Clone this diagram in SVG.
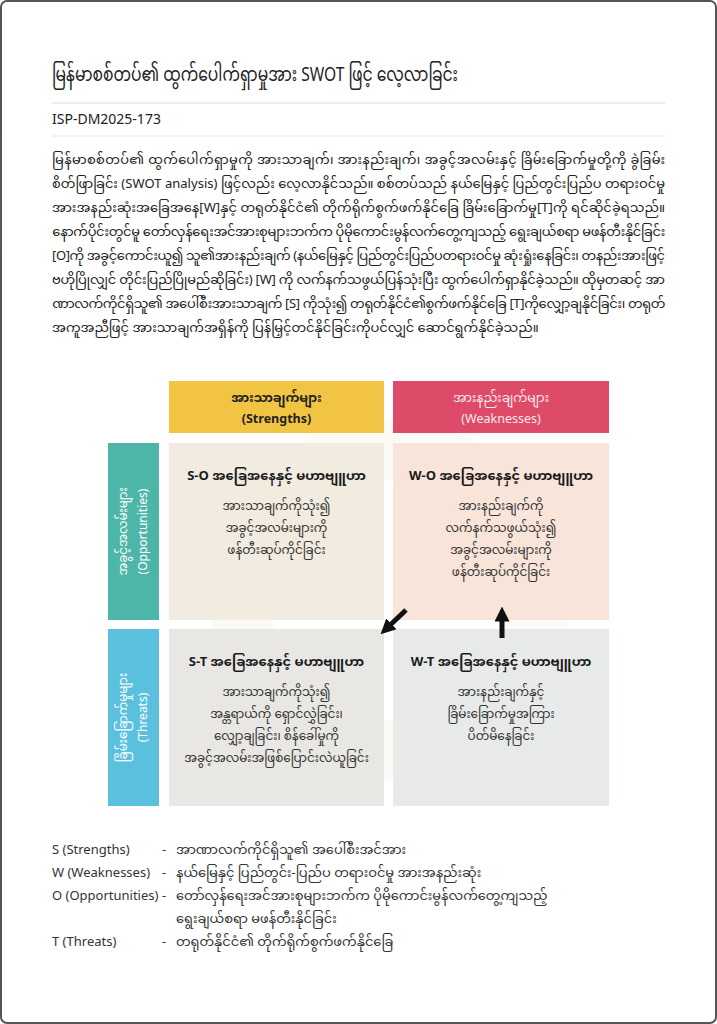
<svg xmlns="http://www.w3.org/2000/svg" width="717" height="1024" viewBox="0 0 717 1024">
<style>
text{font-family:"Noto Sans Myanmar","Padauk","Myanmar Text","Noto Sans","DejaVu Sans",sans-serif;fill:#222}
.t{font-size:19px}
.id{font-size:14px}
.p{font-size:13px}
.h{font-size:12.5px;font-weight:bold;text-anchor:middle}
.ct{font-size:13px;font-weight:bold;text-anchor:middle;fill:#1a1a1a}
.cb{font-size:12px;text-anchor:middle;fill:#333}
.side{font-size:12px;text-anchor:middle;fill:#fff}
.lg{font-size:13px;fill:#333}
</style>
<defs>
<marker id="ah" viewBox="0 0 10 10" refX="5" refY="5" markerWidth="3" markerHeight="3" orient="auto">
<path d="M0,0 L10,5 L0,10 z" fill="#111"/>
</marker>
</defs>
<rect x="0" y="0" width="717" height="1024" fill="#fff"/>
<rect x="1" y="1" width="715" height="1022" rx="6" fill="none" stroke="#555" stroke-width="2"/>

<g id="header">
<text class="t" x="52" y="81" textLength="406" lengthAdjust="spacingAndGlyphs">မြန်မာစစ်တပ်၏ ထွက်ပေါက်ရှာမှုအား SWOT ဖြင့် လေ့လာခြင်း</text>
<line x1="52" y1="103" x2="665" y2="103" stroke="#ddd" stroke-width="1"/>
<text class="id" x="52" y="124">ISP-DM2025-173</text>
<line x1="52" y1="136" x2="665" y2="136" stroke="#e6e6e6" stroke-width="1"/>
</g>

<g id="paragraph">
<text class="p" x="52" y="164" textLength="613" lengthAdjust="spacing">မြန်မာစစ်တပ်၏ ထွက်ပေါက်ရှာမှုကို အားသာချက်၊ အားနည်းချက်၊ အခွင့်အလမ်းနှင့် ခြိမ်းခြောက်မှုတို့ကို ခွဲခြမ်း</text>
<text class="p" x="52" y="188" textLength="613" lengthAdjust="spacing">စိတ်ဖြာခြင်း (SWOT analysis) ဖြင့်လည်း လေ့လာနိုင်သည်။ စစ်တပ်သည် နယ်မြေနှင့် ပြည်တွင်းပြည်ပ တရားဝင်မှု</text>
<text class="p" x="52" y="212" textLength="613" lengthAdjust="spacing">အားအနည်းဆုံးအခြေအနေ[W]နှင့် တရုတ်နိုင်ငံ၏ တိုက်ရိုက်စွက်ဖက်နိုင်ခြေ ခြိမ်းခြောက်မှု[T]ကို ရင်ဆိုင်ခဲ့ရသည်။</text>
<text class="p" x="52" y="236" textLength="613" lengthAdjust="spacing">နောက်ပိုင်းတွင်မူ တော်လှန်ရေးအင်အားစုများဘက်က ပိုမိုကောင်းမွန်လက်တွေ့ကျသည့် ရွေးချယ်စရာ မဖန်တီးနိုင်ခြင်း</text>
<text class="p" x="52" y="260" textLength="613" lengthAdjust="spacing">[O]ကို အခွင့်ကောင်းယူ၍ သူ၏အားနည်းချက် (နယ်မြေနှင့် ပြည်တွင်းပြည်ပတရားဝင်မှု ဆုံးရှုံးနေခြင်း၊ တနည်းအားဖြင့်</text>
<text class="p" x="52" y="284" textLength="613" lengthAdjust="spacing">ဗဟိုပြိုလျှင် တိုင်းပြည်ပြိုမည်ဆိုခြင်း) [W] ကို လက်နက်သဖွယ်ပြန်သုံးပြီး ထွက်ပေါက်ရှာနိုင်ခဲ့သည်။ ထိုမှတဆင့် အာ</text>
<text class="p" x="52" y="308" textLength="613" lengthAdjust="spacing">ဏာလက်ကိုင်ရှိသူ၏ အပေါ်စီးအားသာချက် [S] ကိုသုံး၍ တရုတ်နိုင်ငံ၏စွက်ဖက်နိုင်ခြေ [T]ကိုလျှော့ချနိုင်ခြင်း၊ တရုတ်</text>
<text class="p" x="52" y="332">အကူအညီဖြင့် အားသာချက်အရှိန်ကို ပြန်မြှင့်တင်နိုင်ခြင်းကိုပင်လျှင် ဆောင်ရွက်နိုင်ခဲ့သည်။</text>
</g>

<g id="watermark" opacity="0.05">
<circle cx="390" cy="600" r="150" fill="none" stroke="#c89a50" stroke-width="60"/>
</g>

<g id="strengths-header">
<rect x="169" y="381" width="215" height="52" fill="#F2C443"/>
<text class="h" x="276.5" y="402">အားသာချက်များ<tspan x="276.5" dy="21">(Strengths)</tspan></text>
</g>
<g id="weaknesses-header">
<rect x="393" y="381" width="216" height="52" fill="#DE4B68"/>
<text class="h" x="501" y="402" style="fill:#fde8ec;font-weight:normal">အားနည်းချက်များ<tspan x="501" dy="21">(Weaknesses)</tspan></text>
</g>
<g id="opportunities-side">
<rect x="108" y="443" width="51" height="177" fill="#4DB6A8"/>
<text class="side" transform="translate(127,531.5) rotate(-90)" x="0" y="0">အခွင့်အလမ်းများ<tspan x="0" dy="20">(Opportunities)</tspan></text>
</g>
<g id="threats-side">
<rect x="108" y="629" width="51" height="177" fill="#5BC0DE"/>
<text class="side" transform="translate(127,717.5) rotate(-90)" x="0" y="0">ခြိမ်းခြောက်မှုများ<tspan x="0" dy="20">(Threats)</tspan></text>
</g>

<g id="so-cell">
<rect x="169" y="443" width="215" height="177" fill="#F1EBE0"/>
<text class="ct" x="276.5" y="480">S-O အခြေအနေနှင့် မဟာဗျူဟာ</text>
<text class="cb" x="276.5" y="510">အားသာချက်ကိုသုံး၍<tspan x="276.5" dy="22">အခွင့်အလမ်းများကို</tspan><tspan x="276.5" dy="22">ဖန်တီးဆုပ်ကိုင်ခြင်း</tspan></text>
</g>
<g id="wo-cell">
<rect x="393" y="443" width="216" height="177" fill="#F8E4D8"/>
<text class="ct" x="501" y="480">W-O အခြေအနေနှင့် မဟာဗျူဟာ</text>
<text class="cb" x="501" y="510">အားနည်းချက်ကို<tspan x="501" dy="22">လက်နက်သဖွယ်သုံး၍</tspan><tspan x="501" dy="22">အခွင့်အလမ်းများကို</tspan><tspan x="501" dy="22">ဖန်တီးဆုပ်ကိုင်ခြင်း</tspan></text>
</g>
<g id="st-cell">
<rect x="169" y="629" width="215" height="177" fill="#E9E7E3"/>
<text class="ct" x="276.5" y="666">S-T အခြေအနေနှင့် မဟာဗျူဟာ</text>
<text class="cb" x="276.5" y="696">အားသာချက်ကိုသုံး၍<tspan x="276.5" dy="22">အန္တရာယ်ကို ရှောင်လွှဲခြင်း၊</tspan><tspan x="276.5" dy="22">လျှော့ချခြင်း၊ စိန်ခေါ်မှုကို</tspan><tspan x="276.5" dy="22">အခွင့်အလမ်းအဖြစ်ပြောင်းလဲယူခြင်း</tspan></text>
</g>
<g id="wt-cell">
<rect x="393" y="629" width="216" height="177" fill="#E8EAEA"/>
<text class="ct" x="501" y="666">W-T အခြေအနေနှင့် မဟာဗျူဟာ</text>
<text class="cb" x="501" y="696">အားနည်းချက်နှင့်<tspan x="501" dy="22">ခြိမ်းခြောက်မှုအကြား</tspan><tspan x="501" dy="22">ပိတ်မိနေခြင်း</tspan></text>
</g>

<g id="connectors" stroke="#111" stroke-width="5" fill="none">
<line x1="406" y1="610" x2="386" y2="629" marker-end="url(#ah)"/>
<line x1="502" y1="638" x2="502" y2="614" marker-end="url(#ah)"/>
</g>

<g id="legend">
<text class="lg" x="52" y="854">S (Strengths)</text>
<text class="lg" x="162" y="854">-</text>
<text class="lg" x="176" y="854">အာဏာလက်ကိုင်ရှိသူ၏ အပေါ်စီးအင်အား</text>
<text class="lg" x="52" y="877">W (Weaknesses)</text>
<text class="lg" x="162" y="877">-</text>
<text class="lg" x="176" y="877">နယ်မြေနှင့် ပြည်တွင်း-ပြည်ပ တရားဝင်မှု အားအနည်းဆုံး</text>
<text class="lg" x="52" y="900">O (Opportunities)</text>
<text class="lg" x="162" y="900">-</text>
<text class="lg" x="176" y="900">တော်လှန်ရေးအင်အားစုများဘက်က ပိုမိုကောင်းမွန်လက်တွေ့ကျသည့်<tspan x="176" dy="23">ရွေးချယ်စရာ မဖန်တီးနိုင်ခြင်း</tspan></text>
<text class="lg" x="52" y="946">T (Threats)</text>
<text class="lg" x="162" y="946">-</text>
<text class="lg" x="176" y="946">တရုတ်နိုင်ငံ၏ တိုက်ရိုက်စွက်ဖက်နိုင်ခြေ</text>
</g>
</svg>
